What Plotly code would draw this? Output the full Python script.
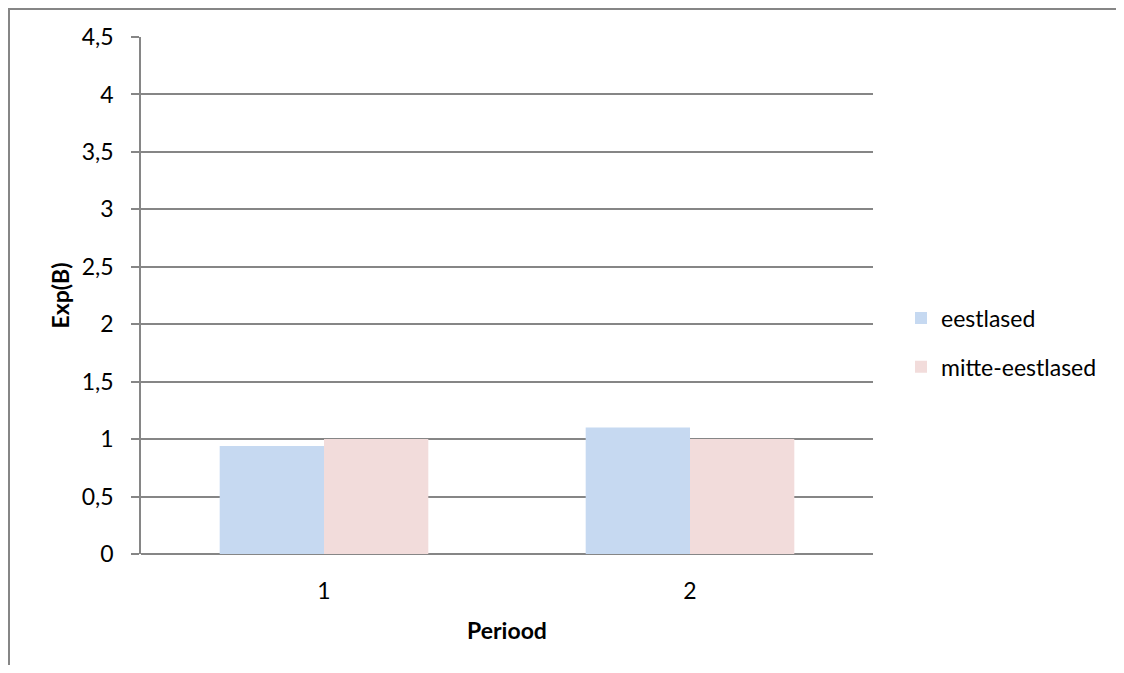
import plotly.graph_objects as go

categories = ["1", "2"]
series_names = ["eestlased", "mitte-eestlased"]
eestlased = [0.94, 1.10]
mitte_eestlased = [1.0, 1.0]
colors = ["#C6D9F1", "#F2DCDB"]

# page body adds an 8px margin, so figure coords = screen coords - 8
W, H = 1116, 657
L, R, T, B = 133, 865, 29, 546
FONT = "Lato"
FS = 23

fig = go.Figure()
for i, (name, vals) in enumerate(zip(series_names, [eestlased, mitte_eestlased])):
    fig.add_trace(go.Bar(x=categories, y=vals, name=name, marker_color=colors[i],
                         marker_line_width=0, legendgroup=name))

def px_x(p):
    return (p - L) / (R - L)

def px_y(q):
    return (B - q) / (B - T)

fig.update_layout(
    width=W, height=H,
    margin=dict(l=L, r=W - R, t=T, b=H - B, autoexpand=False),
    paper_bgcolor="white", plot_bgcolor="white",
    separators=",.",
    font=dict(family=FONT, size=FS, color="#000000"),
    barmode="group", bargap=0.43, bargroupgap=0,
    legend=dict(x=px_x(893), xanchor="left", y=px_y(334.5), yanchor="middle",
                font=dict(size=FS), traceorder="grouped", tracegroupgap=16,
                bgcolor="rgba(0,0,0,0)"),
    xaxis=dict(type="category", showline=False, showgrid=False, ticks="",
               ticklabelstandoff=21,
               title=dict(text="<b>Periood</b>", font=dict(size=FS), standoff=19)),
    yaxis=dict(range=[0, 4.5], dtick=0.5, tick0=0, showgrid=True,
               gridcolor="#868686", gridwidth=1.5, zeroline=True,
               zerolinecolor="#868686", zerolinewidth=1.5,
               showline=True, linecolor="#868686", linewidth=1.5,
               ticks="outside", ticklen=8, tickcolor="#868686", tickwidth=1.5,
               ticklabelstandoff=13,
               title=dict(text="<b>Exp(B)</b>", font=dict(size=FS), standoff=6)),
    shapes=[
        dict(type="line", xref="paper", yref="paper",
             x0=px_x(1), x1=px_x(1), y0=px_y(0), y1=px_y(H + 5),
             line=dict(color="#868686", width=2)),
        dict(type="line", xref="paper", yref="paper",
             x0=px_x(0), x1=px_x(W + 5), y0=px_y(1), y1=px_y(1),
             line=dict(color="#868686", width=2)),
    ],
)

fig.write_html("out.html")
